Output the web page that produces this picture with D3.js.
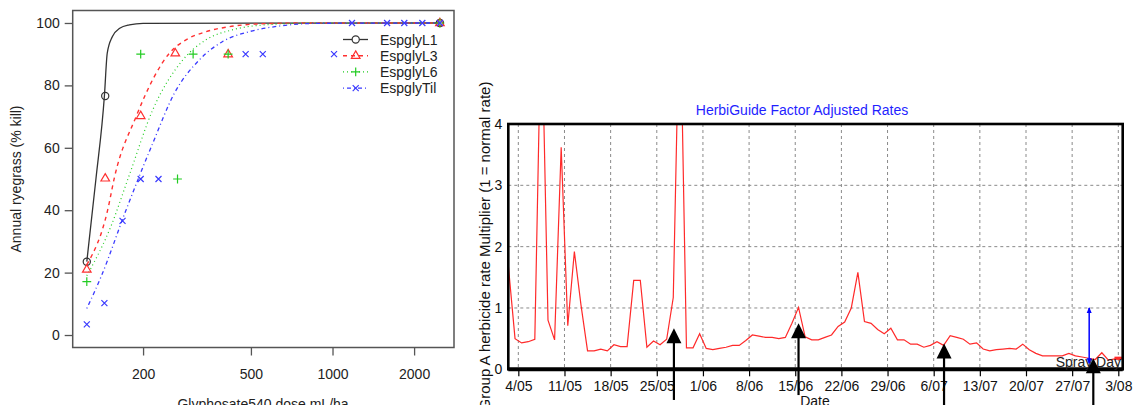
<!DOCTYPE html>
<html><head><meta charset="utf-8">
<script src="https://cdn.jsdelivr.net/npm/d3@7"></script>
<style>
body{margin:0;background:#fff;}
svg{display:block;font-family:"Liberation Sans",Arial,Helvetica,sans-serif;}
</style></head><body>
<svg id="chart" width="1135" height="405"></svg>
<script>
// ===== Dose–response panel (left) =====
const doseTicks = [200, 500, 1000, 2000];
const killTicks = [0, 20, 40, 60, 80, 100];
const seriesNames = ["EspglyL1", "EspglyL3", "EspglyL6", "EspglyTil"];

// observed kill (%) at each glyphosate dose (mL/ha)
const obsL1  = [[124, 23.5], [145, 76.6], [2490, 100]];
const obsL3  = [[124, 21], [145, 50.2], [196, 70.2], [263, 90.3], [412, 90], [2490, 100]];
const obsL6  = [[124, 17.1], [196, 90], [268, 50], [306, 90], [412, 90], [2490, 100]];
const obsTil = [[124, 3.4], [144, 10.2], [168, 36.6], [196, 50], [228, 50], [478, 90], [553, 90],
                [1013, 90], [1180, 100], [1590, 100], [1840, 100], [2145, 100], [2490, 100]];

// fitted dose–response curves, sampled along the dose axis
const fitL1  = [[124, 23.5], [134, 50], [144, 76.6], [147.5, 90.3], [154, 95.6], [164, 98.3],
                [178, 99.4], [200, 99.9], [2490, 100]];
const fitL3  = [[124, 22.5], [148, 40], [157, 50.7], [188.5, 70], [220, 82.8], [250, 90.3],
                [288, 94.6], [341, 97.2], [415, 98.8], [535, 99.7], [800, 100], [2490, 100]];
const fitL6  = [[124, 19], [152, 34.7], [177, 50.7], [217, 72.1], [280, 88.1], [341, 94.6],
                [427, 97.8], [566, 99.4], [900, 100], [2490, 100]];
const fitTil = [[124, 8.5], [140, 18.7], [173, 40], [217, 61.4], [261, 77.5], [322, 88.1],
                [392, 94], [492, 97.2], [634, 99], [900, 99.9], [2490, 100]];

// ===== HerbiGuide panel (right) =====
const rateStart = "2013-05-02 12:00";   // first daily value
const rateValues = [1.67,0.50,0.43,0.45,0.49,6.0,0.80,0.48,3.62,0.71,
  1.92,1.05,0.30,0.30,0.33,0.30,0.40,0.37,0.37,1.45,
  1.45,0.36,0.46,0.40,0.49,1.17,6.3,0.35,0.35,0.58,
  0.34,0.32,0.34,0.36,0.39,0.39,0.47,0.56,0.54,0.52,
  0.52,0.50,0.52,0.75,1.01,0.53,0.48,0.48,0.52,0.56,
  0.70,0.77,1.00,1.58,0.78,0.75,0.65,0.58,0.67,0.48,
  0.48,0.41,0.41,0.36,0.39,0.45,0.39,0.55,0.52,0.49,
  0.41,0.43,0.33,0.30,0.32,0.33,0.34,0.33,0.41,0.32,
  0.26,0.22,0.22,0.22,0.22,0.26,0.22,0.20,0.18,0.16,
  0.27,0.15,0.17,0.18];
const todayMark = [["2013-08-02 10:00", 0.18], ["2013-08-03 16:00", 0.18]];
const dateTicks = ["2013-05-04","2013-05-11","2013-05-18","2013-05-25","2013-06-01","2013-06-08",
  "2013-06-15","2013-06-22","2013-06-29","2013-07-06","2013-07-13","2013-07-20","2013-07-27","2013-08-03"];
const dateTickLabels = ["4/05","11/05","18/05","25/05","1/06","8/06","15/06","22/06","29/06",
  "6/07","13/07","20/07","27/07","3/08"];
const rateTicks = [0, 1, 2, 3, 4];
const markerDates = ["2013-05-27 14:24", "2013-06-15 12:00", "2013-07-07 13:40", "2013-07-30 05:00"];
const markerTips  = [0.67, 0.75, 0.42, 0.18];
const markerTails = [-0.5, -0.42, -0.6, -0.6];
const sprayDate = "2013-07-29 14:00";
const sprayRange = [0.1, 1.0];

const svg = d3.select("#chart");
svg.append("rect").attr("width", 1135).attr("height", 405).attr("fill", "#fff");

// ---------- left panel ----------
(function () {
  const x = d3.scaleLog().domain([110, 2807]).range([72.7, 454]);
  const y = d3.scaleLinear().domain([-4, 104]).range([347.5, 10.5]);
  const g = svg.append("g");
  const styles = [
    { color: "#333333", dash: null, marker: "circle", fit: fitL1, obs: obsL1, width: 1.3 },
    { color: "#ff3030", dash: "4,4", marker: "triangle", fit: fitL3, obs: obsL3, width: 1.4 },
    { color: "#22cc22", dash: "1,3", marker: "plus", fit: fitL6, obs: obsL6, width: 1.2 },
    { color: "#3a3aff", dash: "1,3,4,3", marker: "cross", fit: fitTil, obs: obsTil, width: 1.3 }
  ];
  const markerPath = (type) => {
    switch (type) {
      case "circle": return "M3.6,0A3.6,3.6 0 1,1 -3.6,0A3.6,3.6 0 1,1 3.6,0Z";
      case "triangle": return "M0,-4.8L4.3,2.6L-4.3,2.6Z";
      case "plus": return "M-4.4,0H4.4M0,-4.4V4.4";
      case "cross": return "M-3,-3L3,3M-3,3L3,-3";
    }
  };
  const line = d3.line().x(d => x(d[0])).y(d => y(d[1])).curve(d3.curveMonotoneX);

  styles.forEach(s => {
    g.append("path").attr("d", line(s.fit)).attr("fill", "none")
      .attr("stroke", s.color).attr("stroke-width", s.width)
      .attr("stroke-dasharray", s.dash);
  });
  styles.forEach(s => {
    g.selectAll(null).data(s.obs).enter().append("path")
      .attr("transform", d => `translate(${x(d[0])},${y(d[1])})`)
      .attr("d", markerPath(s.marker)).attr("fill", "none")
      .attr("stroke", s.color).attr("stroke-width", 1.2);
  });

  // plot frame
  g.append("rect").attr("x", 72.7).attr("y", 10.5).attr("width", 454 - 72.7).attr("height", 337)
    .attr("fill", "none").attr("stroke", "#555").attr("stroke-width", 1.5);

  const ax = g.append("g").attr("transform", "translate(0,347.5)")
    .call(d3.axisBottom(x).tickValues(doseTicks).tickFormat(d3.format("d")).tickSize(8).tickPadding(14));
  const ay = g.append("g").attr("transform", "translate(72.7,0)")
    .call(d3.axisLeft(y).tickValues(killTicks).tickSize(8).tickPadding(5));
  [ax, ay].forEach(a => {
    a.select(".domain").remove();
    a.selectAll("line").attr("stroke", "#555").attr("stroke-width", 1.3);
    a.selectAll("text").attr("font-size", 14).attr("fill", "#222")
      .attr("font-family", "Liberation Sans, Arial, sans-serif");
  });

  g.append("text").attr("x", 263).attr("y", 409).attr("text-anchor", "middle")
    .attr("font-size", 14).attr("fill", "#222").text("Glyphosate540 dose mL/ha");
  g.append("text").attr("transform", "translate(21,179) rotate(-90)").attr("text-anchor", "middle")
    .attr("font-size", 14).attr("fill", "#222").text("Annual ryegrass (% kill)");

  // legend
  const lg = g.append("g");
  styles.forEach((s, i) => {
    const ry = 39.5 + i * 16.2;
    lg.append("line").attr("x1", 343).attr("x2", 368).attr("y1", ry).attr("y2", ry)
      .attr("stroke", s.color).attr("stroke-width", s.width).attr("stroke-dasharray", s.dash);
    lg.append("path").attr("transform", `translate(355.7,${ry})`).attr("d", markerPath(s.marker))
      .attr("fill", i === 0 ? "#fff" : "none").attr("stroke", s.color).attr("stroke-width", 1.2);
    lg.append("text").attr("x", 380).attr("y", ry + 5).attr("font-size", 14).attr("fill", "#222")
      .text(seriesNames[i]);
  });
})();

// ---------- right panel ----------
(function () {
  const parse = d3.timeParse("%Y-%m-%d %H:%M");
  const parseDay = d3.timeParse("%Y-%m-%d");
  const L = 508.3, R = 1122.7, T = 124, B = 369.3;
  const x = d3.scaleTime().domain([parse("2013-05-02 11:30"), parse("2013-08-03 16:00")]).range([L, R]);
  const y = d3.scaleLinear().domain([0, 4]).range([B, T]);
  const g = svg.append("g");
  const start = parse(rateStart);
  const series = rateValues.map((v, i) => [d3.timeDay.offset(start, i), v]);
  const ticks = dateTicks.map(parseDay);

  g.append("defs").append("clipPath").attr("id", "plotClip")
    .append("rect").attr("x", L).attr("y", T).attr("width", R - L).attr("height", B - T);

  // grid
  const grid = g.append("g").attr("stroke", "#8a8a8a").attr("stroke-width", 1).attr("stroke-dasharray", "3,3");
  grid.selectAll(null).data([1, 2, 3]).enter().append("line")
    .attr("x1", L).attr("x2", R).attr("y1", d => y(d)).attr("y2", d => y(d));
  grid.selectAll(null).data(ticks).enter().append("line")
    .attr("x1", d => x(d)).attr("x2", d => x(d)).attr("y1", T).attr("y2", B);

  // rate line
  const line = d3.line().x(d => x(d[0])).y(d => y(d[1]));
  g.append("path").attr("clip-path", "url(#plotClip)").attr("d", line(series))
    .attr("fill", "none").attr("stroke", "#ff2a2a").attr("stroke-width", 1.2);
  g.append("path").attr("d", line(todayMark.map(d => [parse(d[0]), d[1]])))
    .attr("fill", "none").attr("stroke", "#ff2a2a").attr("stroke-width", 3.2);

  // axes
  const ax = g.append("g").attr("transform", `translate(0,${B})`)
    .call(d3.axisBottom(x).tickValues(ticks).tickFormat((d, i) => dateTickLabels[i]).tickSize(7).tickPadding(5));
  const ay = g.append("g").attr("transform", `translate(${L},0)`)
    .call(d3.axisLeft(y).tickValues(rateTicks).tickFormat(d3.format("d")).tickSize(0).tickPadding(6));
  [ax, ay].forEach(a => {
    a.select(".domain").remove();
    a.selectAll("line").attr("stroke", "#000").attr("stroke-width", 1.2);
    a.selectAll("text").attr("font-size", 14).attr("fill", "#111")
      .attr("font-family", "Liberation Sans, Arial, sans-serif");
  });

  // frame
  g.append("rect").attr("x", L).attr("y", T).attr("width", R - L).attr("height", B - T)
    .attr("fill", "none").attr("stroke", "#000").attr("stroke-width", 2.6);
  g.append("line").attr("x1", L).attr("x2", R).attr("y1", B).attr("y2", B)
    .attr("stroke", "#000").attr("stroke-width", 4);

  // titles
  g.append("text").attr("x", 802).attr("y", 115).attr("text-anchor", "middle")
    .attr("font-size", 14).attr("fill", "#1f1fff").text("HerbiGuide Factor Adjusted Rates");
  g.append("text").attr("transform", "translate(490,246) rotate(-90)").attr("text-anchor", "middle")
    .attr("font-size", 15).attr("fill", "#111").text("Group A herbicide rate Multiplier (1 = normal rate)");
  g.append("text").attr("x", 815).attr("y", 406).attr("text-anchor", "middle")
    .attr("font-size", 14).attr("fill", "#111").text("Date");
  g.append("text").attr("x", 1121).attr("y", 367).attr("text-anchor", "end")
    .attr("font-size", 14).attr("fill", "#222").text("Spray Day");

  // spray day marker
  const sx = x(parse(sprayDate));
  g.append("line").attr("x1", sx).attr("x2", sx).attr("y1", y(sprayRange[0])).attr("y2", y(sprayRange[1]))
    .attr("stroke", "#0000ff").attr("stroke-width", 1.5);
  g.append("path").attr("d", `M${sx},${y(sprayRange[1]) - 1}l-2.5,6h5z`).attr("fill", "#0000ff");
  g.append("path").attr("d", `M${sx},${y(sprayRange[0]) + 1}l-2.5,-6h5z`).attr("fill", "#0000ff");

  // black pointer arrows
  markerDates.forEach((d, i) => {
    const ax0 = x(parse(d)), tipY = y(markerTips[i]);
    g.append("line").attr("x1", ax0).attr("x2", ax0).attr("y1", y(markerTails[i])).attr("y2", tipY + 12)
      .attr("stroke", "#000").attr("stroke-width", 2.2);
    g.append("path").attr("d", `M${ax0},${tipY}L${ax0 + 7.5},${tipY + 15}L${ax0 - 7.5},${tipY + 15}Z`)
      .attr("fill", "#000");
  });
})();
</script>
</body></html>
